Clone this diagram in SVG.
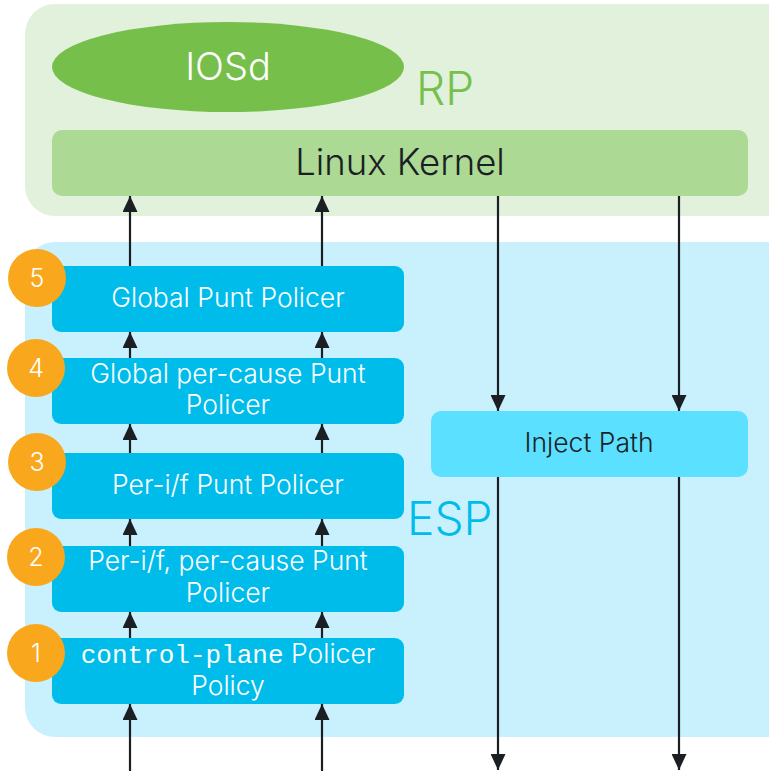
<svg xmlns="http://www.w3.org/2000/svg" width="769" height="771" viewBox="0 0 769 771">
<defs>
<style>
.lbl{font-family:Inter,"Open Sans","Liberation Sans",sans-serif;font-weight:300;font-size:26.5px;fill:#ffffff;text-anchor:middle}
.dark{fill:#1b1f24}
.big{font-size:38px}
.kern{font-size:36.5px}
.pol{fill:#00bceb}
.badge{fill:#f9a81d}
.num{font-family:Inter,"Open Sans","Liberation Sans",sans-serif;font-weight:300;font-size:25px;fill:#ffffff;text-anchor:middle}
.mono{font-family:"Liberation Mono","Courier New",monospace;font-weight:400;font-size:26px}
.conn{stroke:#1b1f24;stroke-width:2.2;fill:none;marker-end:url(#ah)}
</style>
<marker id="ah" markerUnits="userSpaceOnUse" viewBox="0 0 16 15" refX="16" refY="7.5" markerWidth="16" markerHeight="15" orient="auto">
<path d="M0,0 L16,7.5 L0,15 z" fill="#1b1f24"/>
</marker>
</defs>
<rect width="769" height="771" fill="#ffffff"/>
<g id="rp">
<rect x="25" y="4" width="780" height="212" rx="30" fill="#e2f1dc"/>
<text x="416" y="105" font-family="Inter,'Open Sans','Liberation Sans',sans-serif" font-weight="300" font-size="46" fill="#75c04e">RP</text>
</g>
<g id="esp">
<rect x="25" y="242" width="780" height="495" rx="30" fill="#c8f1fd"/>
<text x="407" y="535" font-family="Inter,'Open Sans','Liberation Sans',sans-serif" font-weight="300" font-size="46" fill="#00bceb">ESP</text>
</g>
<g id="iosd">
<ellipse cx="228" cy="67" rx="176" ry="45" fill="#76bf4b"/>
<text class="lbl big" x="228" y="80">IOSd</text>
</g>
<g id="kernel">
<rect x="52" y="130" width="696" height="66" rx="10" fill="#acd994"/>
<text class="lbl dark kern" x="400" y="175">Linux Kernel</text>
</g>
<g id="inject">
<rect x="431" y="411" width="317" height="66" rx="10" fill="#5ce0ff"/>
<text class="lbl dark" x="589" y="452">Inject Path</text>
</g>
<g id="p5">
<rect class="pol" x="52" y="266" width="352" height="66" rx="9"/>
<text class="lbl" x="228" y="307">Global Punt Policer</text>
</g>
<g id="p4">
<rect class="pol" x="52" y="358" width="352" height="66" rx="9"/>
<text class="lbl" x="228" y="383">Global per-cause Punt</text>
<text class="lbl" x="228" y="414">Policer</text>
</g>
<g id="p3">
<rect class="pol" x="52" y="453" width="352" height="66" rx="9"/>
<text class="lbl" x="228" y="494">Per-i/f Punt Policer</text>
</g>
<g id="p2">
<rect class="pol" x="52" y="546" width="352" height="66" rx="9"/>
<text class="lbl" x="228" y="570">Per-i/f, per-cause Punt</text>
<text class="lbl" x="228" y="602">Policer</text>
</g>
<g id="p1">
<rect class="pol" x="52" y="638" width="352" height="66" rx="9"/>
<text class="lbl" x="228" y="663"><tspan class="mono">control-plane</tspan> Policer</text>
<text class="lbl" x="228" y="695">Policy</text>
</g>
<g id="badge5"><circle class="badge" cx="37" cy="278" r="29"/><text class="num" x="37" y="287">5</text></g>
<g id="badge4"><circle class="badge" cx="36" cy="368" r="29"/><text class="num" x="36" y="377">4</text></g>
<g id="badge3"><circle class="badge" cx="37" cy="462" r="29"/><text class="num" x="37" y="471">3</text></g>
<g id="badge2"><circle class="badge" cx="36" cy="557" r="29"/><text class="num" x="36" y="566">2</text></g>
<g id="badge1"><circle class="badge" cx="36" cy="653" r="29"/><text class="num" x="36" y="662">1</text></g>
<g id="connectors">
<line class="conn" x1="130" y1="771" x2="130" y2="704"/>
<line class="conn" x1="322" y1="771" x2="322" y2="704"/>
<line class="conn" x1="130" y1="638" x2="130" y2="612"/>
<line class="conn" x1="322" y1="638" x2="322" y2="612"/>
<line class="conn" x1="130" y1="546" x2="130" y2="519"/>
<line class="conn" x1="322" y1="546" x2="322" y2="519"/>
<line class="conn" x1="130" y1="453" x2="130" y2="424"/>
<line class="conn" x1="322" y1="453" x2="322" y2="424"/>
<line class="conn" x1="130" y1="358" x2="130" y2="332"/>
<line class="conn" x1="322" y1="358" x2="322" y2="332"/>
<line class="conn" x1="130" y1="266" x2="130" y2="196"/>
<line class="conn" x1="322" y1="266" x2="322" y2="196"/>
<line class="conn" x1="498" y1="196" x2="498" y2="411"/>
<line class="conn" x1="679" y1="196" x2="679" y2="411"/>
<line class="conn" x1="498" y1="477" x2="498" y2="770"/>
<line class="conn" x1="679" y1="477" x2="679" y2="770"/>
</g>
</svg>
